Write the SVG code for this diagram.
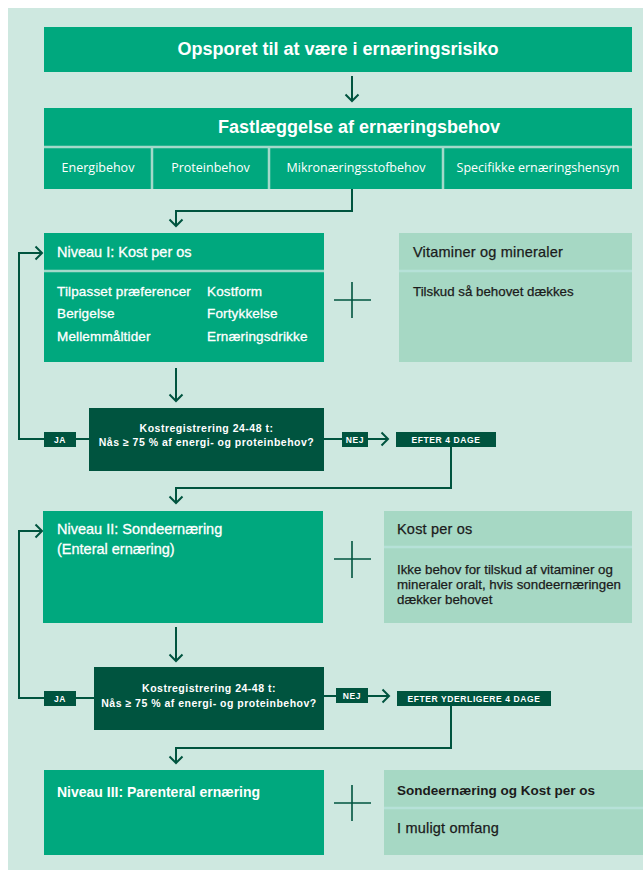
<svg xmlns="http://www.w3.org/2000/svg" width="643" height="870" viewBox="0 0 643 870">
<style>
.bg{fill:#cee8e0}
.g{fill:#00a87e}
.d{fill:#00543f}
.p{fill:#a6d8c4}
.div{stroke:#a3d9ca;stroke-width:2.5;fill:none}
.pdiv{stroke:#b6e1d8;stroke-width:2.5;fill:none}
.cn{stroke:#00543f;stroke-width:2;fill:none}
.plus{stroke:#00543f;stroke-width:1.6;fill:none}
text{font-family:"Liberation Sans",Arial,sans-serif}
.t1{font-size:18px;font-weight:bold;fill:#fff;text-anchor:middle}
.sub{font-family:"Open Sans","Noto Sans",sans-serif;font-size:12.5px;fill:#fff;text-anchor:middle}
.h{font-size:14.5px;fill:#fff;stroke:#fff;stroke-width:0.3}
.b{font-size:13.5px;fill:#fff;stroke:#fff;stroke-width:0.3;letter-spacing:0.15px}
.hd{font-size:14.5px;fill:#1b1b1b;stroke:#1b1b1b;stroke-width:0.25;letter-spacing:0.2px}
.bd{font-size:13.3px;fill:#1b1b1b;stroke:#1b1b1b;stroke-width:0.25}
.hdb{font-size:13.5px;font-weight:bold;fill:#1b1b1b}
.hb{font-size:14px;font-weight:bold;fill:#fff}
.q{font-size:10.5px;font-weight:bold;fill:#fff;text-anchor:middle;letter-spacing:0.5px}
.lb{font-size:8.5px;font-weight:bold;fill:#fff;text-anchor:middle;letter-spacing:0.6px}
</style>
<defs>
<marker id="ah" markerUnits="userSpaceOnUse" markerWidth="16" markerHeight="16" viewBox="-8 -8 16 16" refX="0" refY="0" orient="auto">
<path d="M-6.5,-6.5 L0,0 L-6.5,6.5" stroke="#00543f" stroke-width="2" fill="none"/>
</marker>
</defs>
<rect class="bg" x="8" y="8" width="635" height="862"/>

<g id="connectors">
<path class="cn" d="M352,76 V101" marker-end="url(#ah)"/>
<path class="cn" d="M352,189 V211 H176 V226" marker-end="url(#ah)"/>
<path class="cn" d="M176,368 V401" marker-end="url(#ah)"/>
<path class="cn" d="M89,439 H19 V253 H42" marker-end="url(#ah)"/>
<path class="cn" d="M324,439 H388" marker-end="url(#ah)"/>
<path class="cn" d="M451,447 V488 H176 V503" marker-end="url(#ah)"/>
<path class="cn" d="M176,627 V661" marker-end="url(#ah)"/>
<path class="cn" d="M94,698 H19 V531 H42" marker-end="url(#ah)"/>
<path class="cn" d="M324,696 H389" marker-end="url(#ah)"/>
<path class="cn" d="M451,706 V748 H176 V763" marker-end="url(#ah)"/>
<g id="edge-labels">
<rect class="d" x="44" y="432" width="32" height="15"/>
<text class="lb" x="60" y="443">JA</text>
<rect class="d" x="342" y="432" width="26" height="15"/>
<text class="lb" x="355" y="443">NEJ</text>
<rect class="d" x="44" y="691" width="32" height="15"/>
<text class="lb" x="60" y="702">JA</text>
<rect class="d" x="336" y="688" width="32" height="15"/>
<text class="lb" x="352" y="699">NEJ</text>
</g>
</g>

<g id="start">
<rect class="g" x="44" y="27" width="588" height="45"/>
<text class="t1" x="338" y="55">Opsporet til at være i ernæringsrisiko</text>
</g>

<g id="fastlaeggelse">
<rect class="g" x="44" y="108" width="588" height="81"/>
<path class="div" d="M44,147 H632 M152,147 V189 M269,147 V189 M443,147 V189"/>
<text class="t1" x="359" y="133">Fastlæggelse af ernæringsbehov</text>
<text class="sub" x="98" y="172">Energibehov</text>
<text class="sub" x="210.5" y="172">Proteinbehov</text>
<text class="sub" x="356" y="172">Mikronæringsstofbehov</text>
<text class="sub" x="538" y="172">Specifikke ernæringshensyn</text>
</g>

<g id="niveau1">
<rect class="g" x="44" y="233" width="280" height="129"/>
<path class="div" d="M44,271 H324"/>
<text class="h" x="57" y="257">Niveau I: Kost per os</text>
<text class="b" x="57" y="296">Tilpasset præferencer</text>
<text class="b" x="57" y="318">Berigelse</text>
<text class="b" x="57" y="341">Mellemmåltider</text>
<text class="b" x="207" y="296">Kostform</text>
<text class="b" x="207" y="318">Fortykkelse</text>
<text class="b" x="207" y="341">Ernæringsdrikke</text>
</g>

<g id="plus1"><path class="plus" d="M334,300 H371 M352,282 V318"/></g>

<g id="vitaminer">
<rect class="p" x="399" y="233" width="233" height="129"/>
<path class="pdiv" d="M399,271 H632"/>
<text class="hd" x="413" y="257">Vitaminer og mineraler</text>
<text class="bd" x="413" y="296">Tilskud så behovet dækkes</text>
</g>

<g id="kostreg1">
<rect class="d" x="89" y="408" width="235" height="63"/>
<text class="q" x="206.5" y="432">Kostregistrering 24-48 t:</text>
<text class="q" x="206.5" y="446">Nås ≥ 75 % af energi- og proteinbehov?</text>
</g>

<g id="efter4">
<rect class="d" x="396" y="432" width="100" height="15"/>
<text class="lb" x="446" y="443">EFTER 4 DAGE</text>
</g>

<g id="niveau2">
<rect class="g" x="43" y="511" width="280" height="112"/>
<text class="h" x="57" y="534">Niveau II: Sondeernæring</text>
<text class="h" x="57" y="554">(Enteral ernæring)</text>
</g>

<g id="plus2"><path class="plus" d="M334,559 H371 M352,541 V578"/></g>

<g id="kostperos">
<rect class="p" x="384" y="511" width="248" height="112"/>
<path class="pdiv" d="M384,547 H632"/>
<text class="hd" x="397" y="534">Kost per os</text>
<text class="bd" x="397" y="574">Ikke behov for tilskud af vitaminer og</text>
<text class="bd" x="397" y="589">mineraler oralt, hvis sondeernæringen</text>
<text class="bd" x="397" y="604">dækker behovet</text>
</g>

<g id="kostreg2">
<rect class="d" x="94" y="667" width="230" height="63"/>
<text class="q" x="209" y="692">Kostregistrering 24-48 t:</text>
<text class="q" x="209" y="707">Nås ≥ 75 % af energi- og proteinbehov?</text>
</g>

<g id="efteryderligere">
<rect class="d" x="397" y="691" width="154" height="15"/>
<text class="lb" x="474" y="702">EFTER YDERLIGERE 4 DAGE</text>
</g>

<g id="niveau3">
<rect class="g" x="44" y="770" width="280" height="85"/>
<text class="hb" x="57" y="797">Niveau III: Parenteral ernæring</text>
</g>

<g id="plus3"><path class="plus" d="M334,803 H371 M352,785 V821"/></g>

<g id="sondeogkost">
<rect class="p" x="384" y="770" width="259" height="85"/>
<path class="pdiv" d="M384,808 H643"/>
<text class="hdb" x="397" y="795">Sondeernæring og Kost per os</text>
<text class="hd" x="397" y="833">I muligt omfang</text>
</g>
</svg>
